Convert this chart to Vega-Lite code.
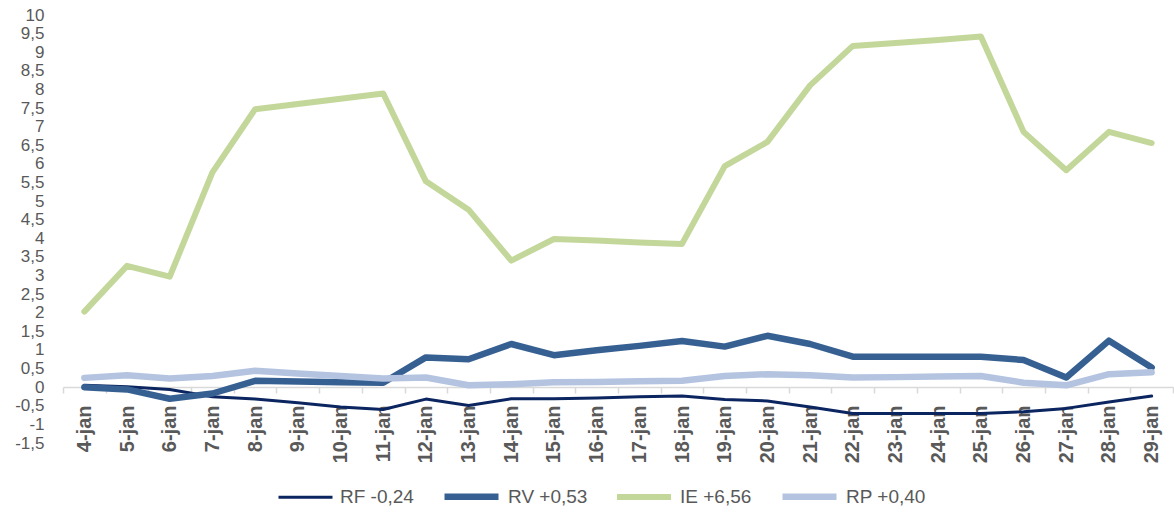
{
  "$schema": "https://vega.github.io/schema/vega-lite/v6.json",
  "width": 1110,
  "height": 428,
  "autosize": {"type": "none"},
  "padding": {"left": 63, "top": 15, "right": 1, "bottom": 71},
  "background": "white",
  "config": {"view": {"stroke": null}, "font": "Liberation Sans"},
  "data": {"values": [
    {"d": "4-jan", "RF -0,24": 0.05, "RV +0,53": 0.0, "IE +6,56": 2.03, "RP +0,40": 0.25},
    {"d": "5-jan", "RF -0,24": 0.01, "RV +0,53": -0.06, "IE +6,56": 3.26, "RP +0,40": 0.32},
    {"d": "6-jan", "RF -0,24": -0.06, "RV +0,53": -0.31, "IE +6,56": 2.97, "RP +0,40": 0.23},
    {"d": "7-jan", "RF -0,24": -0.26, "RV +0,53": -0.17, "IE +6,56": 5.77, "RP +0,40": 0.30},
    {"d": "8-jan", "RF -0,24": -0.32, "RV +0,53": 0.17, "IE +6,56": 7.47, "RP +0,40": 0.44},
    {"d": "9-jan", "RF -0,24": -0.42, "RV +0,53": 0.15, "IE +6,56": 7.61, "RP +0,40": 0.37},
    {"d": "10-jan", "RF -0,24": -0.53, "RV +0,53": 0.13, "IE +6,56": 7.75, "RP +0,40": 0.30},
    {"d": "11-jan", "RF -0,24": -0.60, "RV +0,53": 0.12, "IE +6,56": 7.89, "RP +0,40": 0.23},
    {"d": "12-jan", "RF -0,24": -0.32, "RV +0,53": 0.80, "IE +6,56": 5.53, "RP +0,40": 0.26},
    {"d": "13-jan", "RF -0,24": -0.49, "RV +0,53": 0.75, "IE +6,56": 4.77, "RP +0,40": 0.05},
    {"d": "14-jan", "RF -0,24": -0.31, "RV +0,53": 1.16, "IE +6,56": 3.40, "RP +0,40": 0.08},
    {"d": "15-jan", "RF -0,24": -0.31, "RV +0,53": 0.86, "IE +6,56": 3.98, "RP +0,40": 0.13},
    {"d": "16-jan", "RF -0,24": -0.29, "RV +0,53": 0.99, "IE +6,56": 3.94, "RP +0,40": 0.14},
    {"d": "17-jan", "RF -0,24": -0.26, "RV +0,53": 1.11, "IE +6,56": 3.89, "RP +0,40": 0.16},
    {"d": "18-jan", "RF -0,24": -0.24, "RV +0,53": 1.24, "IE +6,56": 3.85, "RP +0,40": 0.17},
    {"d": "19-jan", "RF -0,24": -0.33, "RV +0,53": 1.09, "IE +6,56": 5.94, "RP +0,40": 0.30},
    {"d": "20-jan", "RF -0,24": -0.37, "RV +0,53": 1.38, "IE +6,56": 6.59, "RP +0,40": 0.35},
    {"d": "21-jan", "RF -0,24": -0.53, "RV +0,53": 1.16, "IE +6,56": 8.11, "RP +0,40": 0.32},
    {"d": "22-jan", "RF -0,24": -0.71, "RV +0,53": 0.82, "IE +6,56": 9.17, "RP +0,40": 0.26},
    {"d": "23-jan", "RF -0,24": -0.71, "RV +0,53": 0.82, "IE +6,56": 9.25, "RP +0,40": 0.27},
    {"d": "24-jan", "RF -0,24": -0.71, "RV +0,53": 0.82, "IE +6,56": 9.33, "RP +0,40": 0.29},
    {"d": "25-jan", "RF -0,24": -0.71, "RV +0,53": 0.82, "IE +6,56": 9.42, "RP +0,40": 0.30},
    {"d": "26-jan", "RF -0,24": -0.66, "RV +0,53": 0.73, "IE +6,56": 6.86, "RP +0,40": 0.12},
    {"d": "27-jan", "RF -0,24": -0.57, "RV +0,53": 0.26, "IE +6,56": 5.83, "RP +0,40": 0.05},
    {"d": "28-jan", "RF -0,24": -0.40, "RV +0,53": 1.25, "IE +6,56": 6.86, "RP +0,40": 0.35},
    {"d": "29-jan", "RF -0,24": -0.24, "RV +0,53": 0.53, "IE +6,56": 6.56, "RP +0,40": 0.40}
  ]},
  "transform": [{"fold": ["RF -0,24", "RV +0,53", "IE +6,56", "RP +0,40"], "as": ["serie", "v"]}],
  "mark": {"type": "line", "strokeCap": "round", "strokeJoin": "round"},
  "encoding": {
    "x": {
      "field": "d", "type": "nominal", "sort": null,
      "scale": {"type": "band", "paddingInner": 0, "paddingOuter": 0},
      "axis": {
        "title": null, "labelAngle": -90, "labelFontWeight": "bold", "labelFontSize": 20,
        "labelColor": "#595959", "domainColor": "#d9d9d9", "domainWidth": 1.5,
        "tickColor": "#d9d9d9", "tickWidth": 1.5, "tickBand": "extent", "tickSize": 6,
        "offset": -56, "labelPadding": 12, "grid": false
      }
    },
    "y": {
      "field": "v", "type": "quantitative",
      "scale": {"domain": [-1.5, 10], "nice": false, "zero": false},
      "axis": {
        "title": null,
        "values": [-1.5, -1, -0.5, 0, 0.5, 1, 1.5, 2, 2.5, 3, 3.5, 4, 4.5, 5, 5.5, 6, 6.5, 7, 7.5, 8, 8.5, 9, 9.5, 10],
        "labelExpr": "replace(toString(datum.value), '.', ',')",
        "domain": false, "ticks": false, "grid": false, "labelPadding": 19,
        "labelFontSize": 17, "labelColor": "#595959", "labelOverlap": false
      }
    },
    "color": {
      "field": "serie", "type": "nominal",
      "scale": {"domain": ["RF -0,24", "RV +0,53", "IE +6,56", "RP +0,40"], "range": ["#0b2560", "#376092", "#c4d79b", "#b4c4e0"]},
      "legend": {
        "title": null, "orient": "none", "legendX": 214, "legendY": 451, "direction": "horizontal",
        "symbolType": "stroke", "symbolSize": 2916, "labelFontSize": 19, "labelColor": "#595959",
        "columnPadding": 17, "labelOffset": 6
      }
    },
    "strokeWidth": {
      "field": "serie", "type": "nominal",
      "scale": {"type": "ordinal", "domain": ["RF -0,24", "RV +0,53", "IE +6,56", "RP +0,40"], "range": [3, 6.5, 6, 6.5]},
      "legend": {
        "title": null, "orient": "none", "legendX": 214, "legendY": 451, "direction": "horizontal",
        "symbolType": "stroke", "symbolSize": 2916, "labelFontSize": 19, "labelColor": "#595959",
        "columnPadding": 17, "labelOffset": 6
      }
    }
  }
}
